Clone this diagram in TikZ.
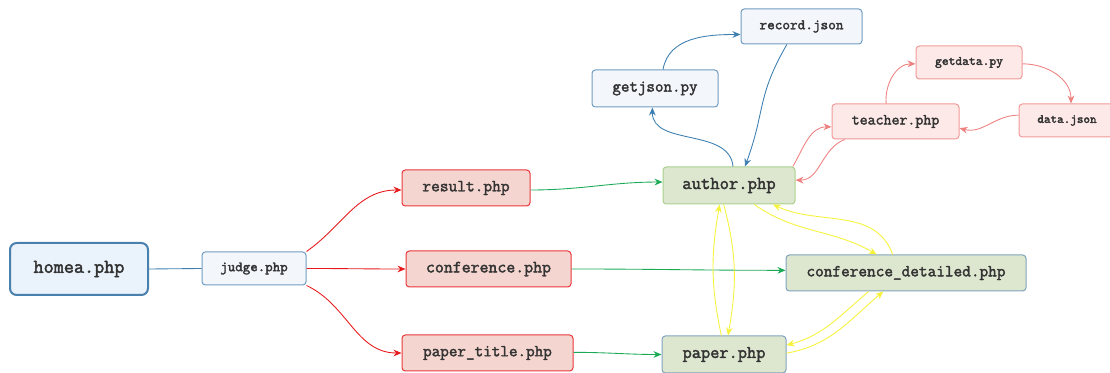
\documentclass[tikz,border=0pt]{standalone}
\usepackage{fontspec}
\newfontfamily\lab[FakeBold=2.2]{Latin Modern Mono}
\usetikzlibrary{arrows.meta}
\definecolor{txt}{HTML}{333333}
\definecolor{bluebd}{HTML}{6F9CC0}
\definecolor{bluefill}{HTML}{F3F7FC}
\definecolor{homebd}{HTML}{4A80AE}
\definecolor{homefill}{HTML}{EAF2FB}
\definecolor{redbd}{HTML}{E8383A}
\definecolor{redfill}{HTML}{F4D5CF}
\definecolor{greenbd}{HTML}{A9D18E}
\definecolor{greenfill}{HTML}{DDE7CF}
\definecolor{graybd}{HTML}{7FA3BD}
\definecolor{pinkbd}{HTML}{F29A9A}
\definecolor{pinkfill}{HTML}{FDE9E8}
\definecolor{redln}{HTML}{E8191C}
\definecolor{greenln}{HTML}{1AAA55}
\definecolor{blueln}{HTML}{3D7FB0}
\definecolor{pinkln}{HTML}{EE8080}
\definecolor{yellowln}{HTML}{F6F33A}
\newcommand{\fs}[1]{\fontsize{#1}{#1}\selectfont}
\begin{document}
\begin{tikzpicture}[x=0.75pt,y=-0.75pt,
  box/.style={draw, rounded corners=2.5pt, inner sep=0pt, line width=0.75pt, text=txt, font=\lab},
  bluebox/.style={box, draw=bluebd, fill=bluefill},
  redbox/.style={box, draw=redbd, fill=redfill},
  greenbox/.style={box, draw=greenbd, fill=greenfill},
  graybox/.style={box, draw=graybd, fill=greenfill},
  pinkbox/.style={box, draw=pinkbd, fill=pinkfill},
  conn/.style={line width=0.65pt, -{Stealth[length=6pt,width=5pt]}},
  redc/.style={conn, draw=redln},
  greenc/.style={conn, draw=greenln},
  bluec/.style={conn, draw=blueln},
  pinkc/.style={conn, draw=pinkln},
  yellowc/.style={conn, draw=yellowln}]
\useasboundingbox (0,0) rectangle (1110,373);

\node[box, draw=homebd, fill=homefill, line width=1.5pt, rounded corners=5pt,
  minimum width=103.5pt, minimum height=39pt] (homea) at (79,269) {\fs{14.7}homea.php};
\node[bluebox, minimum width=78pt, minimum height=24.75pt] (judge) at (254,268.5) {\fs{10.7}judge.php};
\node[redbox, minimum width=96pt, minimum height=27pt] (result) at (466,188) {\fs{12.7}result.php};
\node[redbox, minimum width=123.75pt, minimum height=27pt] (conf) at (488.5,269) {\fs{13}conference.php};
\node[redbox, minimum width=128.25pt, minimum height=27pt] (ptitle) at (487.5,353) {\fs{12.5}paper\_title.php};
\node[greenbox, minimum width=99pt, minimum height=27.75pt] (author) at (729,185.5) {\fs{13.6}author.php};
\node[graybox, minimum width=180pt, minimum height=27pt] (confdet) at (906,273) {\fs{12.6}conference\_detailed.php};
\node[graybox, minimum width=93pt, minimum height=27.75pt] (paper) at (724,354.5) {\fs{13.4}paper.php};
\node[bluebox, minimum width=94.5pt, minimum height=27.75pt] (getjson) at (655,88.5) {\fs{12.4}getjson.py};
\node[bluebox, minimum width=90.75pt, minimum height=26.25pt] (record) at (801.5,26.5) {\fs{10.9}record.json};
\node[pinkbox, minimum width=79.5pt, minimum height=24.75pt] (getdata) at (969,62.5) {\fs{9.7}getdata.py};
\node[pinkbox, minimum width=95.25pt, minimum height=26.25pt] (teacher) at (895.5,121.5) {\fs{11.6}teacher.php};
\node[pinkbox, minimum width=72pt, minimum height=24.75pt] (data) at (1067,120.5) {\fs{9.4}data.json};

% homea - judge
\draw[draw=blueln, line width=0.65pt] (homea.east) -- (judge.west);
% judge -> red boxes
\draw[redc] (judge.north east) to[out=35,in=180] ([yshift=-1.5pt]result.west);
\draw[redc] (judge.east) to[out=0,in=180] (conf.west);
\draw[redc] (judge.south east) to[out=-25,in=180] (ptitle.west);
% green
\draw[greenc] ([yshift=-1.5pt]result.east) to[out=0,in=180] ([yshift=2.6pt]author.west);
\draw[greenc] (conf.east) to[out=0,in=180] ([yshift=2pt]confdet.west);
\draw[greenc] ([yshift=0.5pt]ptitle.east) to[out=0,in=180] (paper.west);
% blue
\draw[bluec] ([xshift=3pt]author.north) to[out=95,in=-90] ([xshift=-2pt]getjson.south);
\draw[bluec] ([xshift=6pt]getjson.north) to[out=80,in=180] ([yshift=-6pt]record.west);
\draw[bluec] ([xshift=-11pt]record.south) to[out=-120,in=70,looseness=1.2] ([xshift=12pt]author.north);
% pink
\draw[pinkc] ([xshift=-7pt]teacher.north) to[out=95,in=180] ([yshift=-1pt]getdata.west);
\draw[pinkc] ([yshift=-1pt]getdata.east) to[out=0,in=90] ([xshift=3pt]data.north);
\draw[pinkc] ([yshift=4pt]data.west) to[out=180,in=-15] ([yshift=-5pt]teacher.east);
\draw[pinkc] ([xshift=-2pt]author.north east) to[out=60,in=180] ([yshift=-4pt]teacher.west);
\draw[pinkc] ([xshift=10pt]teacher.south west) to[out=200,in=0] ([yshift=4pt]author.east);
% yellow
\draw[yellowc] ([xshift=19pt]author.south) to[out=-35,in=150] ([xshift=-22pt]confdet.north);
\draw[yellowc] ([xshift=-10pt]confdet.north) to[out=110,in=-25] ([xshift=33pt]author.south);
\draw[yellowc] ([xshift=-4pt]author.south) to[out=-75,in=80] ([xshift=3pt]paper.north);
\draw[yellowc] ([xshift=-2pt]paper.north) to[out=102,in=-100] ([xshift=-7pt]author.south);
\draw[yellowc] ([xshift=-28pt]confdet.south) to[out=-140,in=15] ([yshift=7pt]paper.east);
\draw[yellowc] ([yshift=1pt]paper.east) to[out=10,in=-140] ([xshift=-17pt]confdet.south);
\end{tikzpicture}
\end{document}
